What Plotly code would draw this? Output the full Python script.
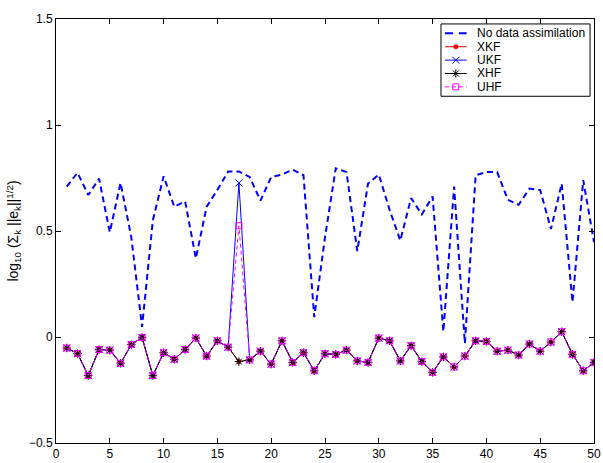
import plotly.graph_objects as go

x = list(range(1, 51))

no_da = [0.709, 0.775, 0.67, 0.747, 0.494, 0.727, 0.47, 0.048, 0.55, 0.758,
         0.614, 0.64, 0.371, 0.615, 0.694, 0.781, 0.781, 0.755, 0.643, 0.755,
         0.766, 0.789, 0.763, 0.094, 0.47, 0.796, 0.778, 0.405, 0.724, 0.766,
         0.60, 0.455, 0.655, 0.578, 0.663, 0.025, 0.709, -0.03, 0.763, 0.778,
         0.778, 0.647, 0.624, 0.70, 0.693, 0.509, 0.724, 0.164, 0.74, 0.448]

base = [-0.052, -0.078, -0.182, -0.059, -0.062, -0.124, -0.036, -0.002, -0.182, -0.074,
        -0.105, -0.059, -0.005, -0.09, -0.018, -0.048, -0.116, -0.108, -0.067, -0.128,
        -0.018, -0.12, -0.074, -0.159, -0.079, -0.082, -0.062, -0.113, -0.12, -0.005,
        -0.018, -0.113, -0.041, -0.116, -0.167, -0.094, -0.141, -0.09, -0.018, -0.021,
        -0.067, -0.062, -0.085, -0.033, -0.067, -0.024, 0.025, -0.082, -0.159, -0.12]

xkf = list(base)
xhf = list(base)
ukf = list(base)
ukf[16] = 0.727
uhf = list(base)
uhf[16] = 0.525

legend_names = ["No data assimilation", "XKF", "UKF", "XHF", "UHF"]
x_ticks = list(range(0, 51, 5))
y_ticks = [-0.5, 0, 0.5, 1, 1.5]
y_tick_text = ["−0.5", "0", "0.5", "1", "1.5"]

FONT = "Liberation Sans, Arial, Helvetica"

styles = [
    dict(color="#0000ff", width=2, dash="6px,4px", marker=None),
    dict(color="#ff0000", width=1, dash="solid", marker=dict(symbol="circle", size=4)),
    dict(color="#0000ff", width=1, dash="solid", marker=dict(symbol="x-thin-open", size=7)),
    dict(color="#000000", width=1, dash="solid", marker=dict(symbol="asterisk-open", size=7)),
    dict(color="#ff00ff", width=1, dash="4px,3px", marker=dict(symbol="square-open", size=6)),
]
series = [no_da, xkf, ukf, xhf, uhf]

fig = go.Figure()
for name, ys, st in zip(legend_names, series, styles):
    if st["marker"] is None:
        fig.add_trace(go.Scatter(x=x, y=ys, mode="lines", name=name, showlegend=False,
                                 line=dict(color=st["color"], width=st["width"], dash=st["dash"])))
    else:
        fig.add_trace(go.Scatter(x=x, y=ys, mode="lines+markers", name=name, showlegend=False,
                                 line=dict(color=st["color"], width=st["width"], dash=st["dash"]),
                                 marker=dict(symbol=st["marker"]["symbol"], size=st["marker"]["size"],
                                             color=st["color"],
                                             line=dict(color=st["color"], width=1))))

# --- custom legend (pixel-like overlay axes) ---
L_X0, L_X1, L_Y0, L_Y1 = 446, 597, 24, 97
row_y = [33.5, 47, 60.5, 74, 87.5]
fig.add_shape(type="rect", xref="x2", yref="y2", x0=L_X0, x1=L_X1, y0=L_Y0, y1=L_Y1,
              line=dict(color="black", width=1), fillcolor="white", layer="below")
for name, st, ry in zip(legend_names, styles, row_y):
    if st["marker"] is None:
        fig.add_trace(go.Scatter(x=[450, 472], y=[ry, ry], xaxis="x2", yaxis="y2", mode="lines",
                                 showlegend=False, hoverinfo="skip",
                                 line=dict(color=st["color"], width=2, dash="8px,6px")))
    else:
        fig.add_trace(go.Scatter(x=[450, 472], y=[ry, ry], xaxis="x2", yaxis="y2", mode="lines",
                                 showlegend=False, hoverinfo="skip",
                                 line=dict(color=st["color"], width=1, dash=st["dash"])))
        fig.add_trace(go.Scatter(x=[461], y=[ry], xaxis="x2", yaxis="y2", mode="markers",
                                 showlegend=False, hoverinfo="skip",
                                 marker=dict(symbol=st["marker"]["symbol"], size=st["marker"]["size"],
                                             color=st["color"], line=dict(color=st["color"], width=1))))
    fig.add_annotation(x=480, y=ry, xref="x2", yref="y2", text=name, showarrow=False,
                       xanchor="left", yanchor="middle",
                       font=dict(family=FONT, size=12, color="black"))

axis_common = dict(showgrid=False, zeroline=False, showline=True, linecolor="black",
                   linewidth=1, mirror="ticks", ticks="inside", ticklen=5,
                   tickcolor="black", ticklabeloverflow="allow",
                   tickfont=dict(family=FONT, size=12, color="black"))

fig.update_layout(
    width=603, height=463,
    margin=dict(l=56, r=2, t=19, b=16),
    paper_bgcolor="white", plot_bgcolor="white",
    font=dict(family=FONT, size=12, color="black"),
    xaxis=dict(range=[0, 50], tickvals=x_ticks, **axis_common),
    yaxis=dict(range=[-0.5, 1.5], tickvals=y_ticks, ticktext=y_tick_text,
               title=dict(text="log<sub>10</sub> (Σ<sub>k</sub> ||e<sub>k</sub>||<sup>1/2</sup>)",
                          font=dict(family=FONT, size=14), standoff=6),
               **axis_common),
    xaxis2=dict(overlaying="x", range=[56, 601], visible=False, fixedrange=True),
    yaxis2=dict(overlaying="y", range=[447, 19], visible=False, fixedrange=True),
    showlegend=False,
)

fig.write_html("out.html")
